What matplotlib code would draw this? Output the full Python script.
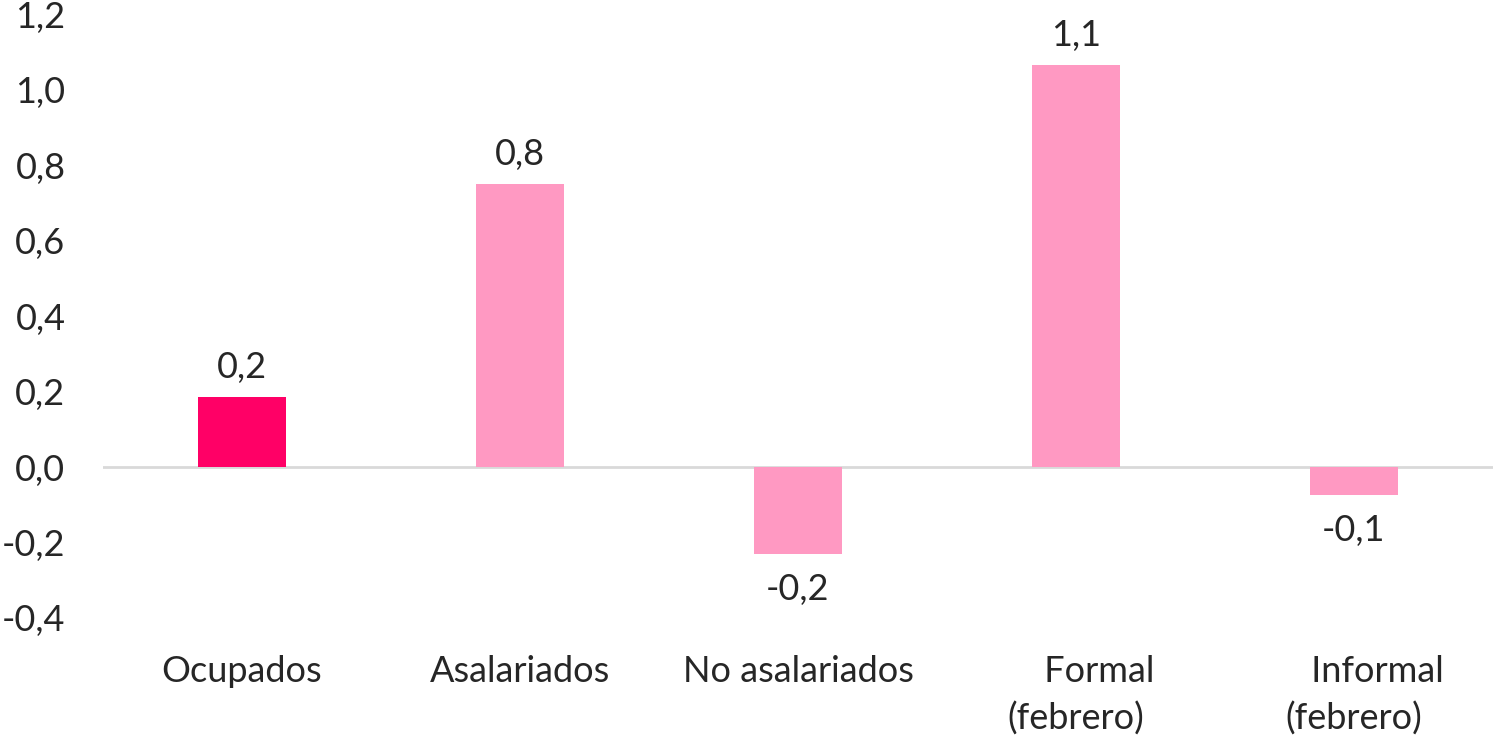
import matplotlib.pyplot as plt
from matplotlib.ticker import FuncFormatter

categorias = ["Ocupados", "Asalariados", "No asalariados", "     Formal\n(febrero)", "     Informal\n(febrero)"]
valores = [0.185, 0.75, -0.23, 1.065, -0.075]
etiquetas = ["0,2", "0,8", "-0,2", "1,1", "-0,1"]
colores = ["#FF0066", "#FF99C2", "#FF99C2", "#FF99C2", "#FF99C2"]

plt.rcParams['font.family'] = ['Lato', 'DejaVu Sans']
plt.rcParams['axes.unicode_minus'] = False
texto = "#262626"
fs = 26

fig = plt.figure(figsize=(14.94, 7.41), dpi=100)
ax = fig.add_axes([0.0689, 0.166, 0.9304, 0.815])

x = range(len(categorias))
ax.bar(x, valores, width=0.317, color=colores, zorder=2)
ax.axhline(0, color="#D9D9D9", linewidth=2, zorder=1)

# etiquetas de valor encima / debajo de cada barra
for xi, v, t in zip(x, valores, etiquetas):
    off = 0.035 if v >= 0 else -0.05
    ax.text(xi, v + off, t, ha="center", va="bottom" if v >= 0 else "top",
            fontsize=fs, color=texto)

ax.set_xlim(-0.5, 4.5)
ax.set_ylim(-0.4, 1.2)
ax.set_yticks([-0.4, -0.2, 0.0, 0.2, 0.4, 0.6, 0.8, 1.0, 1.2])
ax.yaxis.set_major_formatter(FuncFormatter(lambda v, p: f"{v:.1f}".replace(".", ",").replace("-0,0", "0,0")))
ax.set_xticks(list(x))
ax.set_xticklabels(categorias, fontsize=fs, color=texto, linespacing=1.45)
ax.tick_params(axis="y", labelsize=fs, labelcolor=texto, length=0, pad=27)
ax.tick_params(axis="x", length=0, pad=27)
for s in ax.spines.values():
    s.set_visible(False)

fig.savefig("out.png", dpi=100)
